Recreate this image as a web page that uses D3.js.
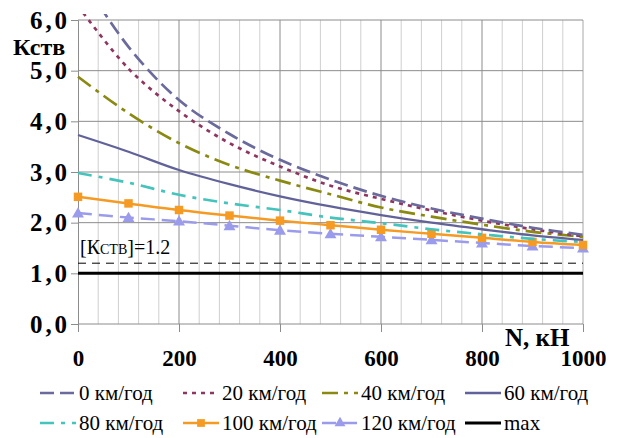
<!DOCTYPE html>
<html>
<head>
<meta charset="utf-8">
<script src="https://cdn.jsdelivr.net/npm/d3@7"></script>
<style>
  html, body { margin: 0; padding: 0; background: #fff; }
  svg { display: block; }
</style>
</head>
<body>
<svg id="chart" width="619" height="438"></svg>
<script>
// ---- data ----
const loads = [0, 100, 200, 300, 400, 500, 600, 700, 800, 900, 1000];
const v0   = [6.95, 5.47, 4.42, 3.75, 3.24, 2.85, 2.53, 2.28, 2.08, 1.90, 1.76];
const v20  = [6.28, 5.04, 4.20, 3.57, 3.11, 2.73, 2.47, 2.24, 2.04, 1.87, 1.73];
const v40  = [4.88, 4.16, 3.57, 3.14, 2.83, 2.56, 2.30, 2.12, 1.96, 1.82, 1.72];
const v60  = [3.73, 3.40, 3.04, 2.76, 2.52, 2.32, 2.15, 2.00, 1.87, 1.75, 1.66];
const v80  = [2.98, 2.79, 2.55, 2.38, 2.25, 2.10, 1.99, 1.87, 1.77, 1.68, 1.62];
const v100 = [2.51, 2.38, 2.25, 2.14, 2.04, 1.95, 1.86, 1.78, 1.70, 1.62, 1.56];
const v120 = [2.19, 2.10, 2.03, 1.94, 1.85, 1.78, 1.72, 1.66, 1.60, 1.54, 1.50];
const vMax = [1.0, 1.0, 1.0, 1.0, 1.0, 1.0, 1.0, 1.0, 1.0, 1.0, 1.0];
const allowedK = 1.2;
const allowedLabel = ["[К", "СТВ", "]=1.2"];
const seriesNames = ["0 км/год", "20 км/год", "40 км/год", "60 км/год",
                     "80 км/год", "100 км/год", "120 км/год", "max"];
const yTicks = [0, 1, 2, 3, 4, 5, 6];
const xTicks = [0, 200, 400, 600, 800, 1000];
const xMinorTicks = d3.range(0, 1001, 40);
const yTitle = "Кств";
const xTitle = "N, кН";

// ---- styles ----
const FONT = '"Liberation Serif", Tinos, "Times New Roman", Times';
const styles = [
  {color: "#6a6a9c", dash: "14,6", width: 2.7, marker: null},
  {color: "#8e3560", dash: "4,5", width: 2.7, marker: null},
  {color: "#8a8a12", dash: "16,6,4,6", width: 2.7, marker: null},
  {color: "#62629a", dash: null, width: 2.3, marker: null},
  {color: "#44c4bc", dash: "14,7,4,7", width: 2.7, marker: null},
  {color: "#f59a23", dash: null, width: 2.5, marker: "square"},
  {color: "#9b9bec", dash: "14,7", width: 2.5, marker: "triangle"},
  {color: "#000000", dash: null, width: 3, marker: null}
];
const seriesValues = [v0, v20, v40, v60, v80, v100, v120, vMax];

const svg = d3.select("#chart");
const x = d3.scaleLinear().domain([0, 1000]).range([78, 583]);
const y = d3.scaleLinear().domain([0, 6]).range([324, 20]);

function serifize(sel) {
  sel.each(function() {
    const t = this.textContent;
    this.textContent = "";
    d3.select(this).style("font-family", FONT)
      .append("tspan").style("font-family", FONT).text(t);
  });
  return sel;
}

// ---- grid ----
const grid = svg.append("g");
grid.selectAll("line.vminor").data(xMinorTicks.filter(d => d % 200 !== 0)).join("line")
  .attr("x1", d => x(d)).attr("x2", d => x(d))
  .attr("y1", y(0)).attr("y2", y(6))
  .attr("stroke", "#cfcfcf").attr("stroke-width", 1);
grid.selectAll("line.vmajor").data(xTicks.filter(d => d > 0)).join("line")
  .attr("x1", d => x(d)).attr("x2", d => x(d))
  .attr("y1", y(0)).attr("y2", y(6))
  .attr("stroke", d => d === 1000 ? "#a8a8a8" : "#8c8c8c").attr("stroke-width", 1);
grid.selectAll("line.h").data(yTicks.filter(d => d > 0)).join("line")
  .attr("x1", x(0)).attr("x2", x(1000))
  .attr("y1", d => y(d)).attr("y2", d => y(d))
  .attr("stroke", "#8c8c8c").attr("stroke-width", 1);

// ---- axes ----
const yAxis = svg.append("g").attr("transform", `translate(${x(0)},0)`)
  .call(d3.axisLeft(y).tickValues(yTicks).tickSize(7).tickPadding(4)
        .tickFormat(d => d3.format(".1f")(d).replace(".", ",")));
yAxis.attr("font-family", null);
yAxis.select(".domain").attr("stroke", "#8c8c8c");
yAxis.selectAll(".tick line").attr("stroke", "#8c8c8c");
serifize(yAxis.selectAll(".tick text"))
  .attr("font-size", 25).attr("font-weight", "bold").attr("fill", "#000")
  .attr("text-anchor", "end").attr("dy", null).attr("y", 8)
  .attr("textLength", 37).attr("lengthAdjust", "spacing");

const xAxis = svg.append("g").attr("transform", `translate(0,${y(0)})`)
  .call(d3.axisBottom(x).tickValues(xTicks).tickSize(8).tickPadding(0)
        .tickFormat(d3.format("d")));
xAxis.attr("font-family", null);
xAxis.select(".domain").attr("stroke", "#8c8c8c").attr("d", `M${x(0)},0H${x(1000)}`);
xAxis.selectAll(".tick line").attr("stroke", "#8c8c8c");
serifize(xAxis.selectAll(".tick text"))
  .attr("font-size", 23).attr("font-weight", "bold").attr("fill", "#000")
  .attr("y", 42).attr("dy", null);

// ---- reference lines ----
svg.append("line")
  .attr("x1", x(0)).attr("x2", x(1000))
  .attr("y1", y(allowedK)).attr("y2", y(allowedK))
  .attr("stroke", "#000").attr("stroke-width", 1).attr("stroke-dasharray", "8,6");
const al = svg.append("text").style("font-family", FONT)
  .attr("x", x(0) + 2).attr("y", y(allowedK) - 9)
  .attr("font-size", 20).attr("fill", "#000");
al.append("tspan").style("font-family", FONT).text(allowedLabel[0]);
al.append("tspan").style("font-family", FONT).attr("font-size", 14).text(allowedLabel[1]);
al.append("tspan").style("font-family", FONT).text(allowedLabel[2]);

// ---- series ----
svg.append("clipPath").attr("id", "clip").append("rect")
  .attr("x", x(0) - 10).attr("y", 14).attr("width", 530).attr("height", 320);

const line = d3.line()
  .x((d, i) => x(loads[i]))
  .y(d => y(d))
  .curve(d3.curveCatmullRom.alpha(0.5));

const plot = svg.append("g").attr("clip-path", "url(#clip)");
const order = [7, 6, 5, 4, 3, 2, 1, 0];
order.forEach(k => {
  const s = styles[k];
  plot.append("path")
    .attr("d", line(seriesValues[k]))
    .attr("fill", "none")
    .attr("stroke", s.color)
    .attr("stroke-width", s.width)
    .attr("stroke-dasharray", s.dash)
    .attr("stroke-linecap", "butt");
  if (s.marker) {
    const sym = d3.symbol().type(s.marker === "square" ? d3.symbolSquare : d3.symbolTriangle)
      .size(s.marker === "square" ? 72 : 62);
    plot.selectAll(null).data(seriesValues[k]).join("path")
      .attr("d", sym)
      .attr("transform", (d, i) => `translate(${x(loads[i])},${y(d) + (s.marker === "triangle" ? 1 : 0)})`)
      .attr("fill", s.color);
  }
});

// ---- axis titles ----
serifize(svg.append("text").attr("x", 13).attr("y", 55)
  .attr("font-size", 24).attr("font-weight", "bold").attr("fill", "#000")
  .text(yTitle));
serifize(svg.append("text").attr("x", 505).attr("y", 346)
  .attr("font-size", 25).attr("font-weight", "bold").attr("fill", "#000")
  .text(xTitle));

// ---- legend ----
const legCols = [40, 183, 322, 465];
const legRows = [393, 423];
const legend = svg.append("g");
seriesNames.forEach((name, k) => {
  const s = styles[k];
  const cx = legCols[k % 4], cy = legRows[Math.floor(k / 4)];
  const g = legend.append("g").attr("transform", `translate(${cx},${cy})`);
  g.append("line").attr("x1", 0).attr("x2", 36).attr("y1", 0).attr("y2", 0)
    .attr("stroke", s.color).attr("stroke-width", s.width)
    .attr("stroke-dasharray", s.dash);
  if (s.marker) {
    const sym = d3.symbol().type(s.marker === "square" ? d3.symbolSquare : d3.symbolTriangle)
      .size(s.marker === "square" ? 60 : 52);
    g.append("path").attr("d", sym).attr("transform", "translate(18,0)").attr("fill", s.color);
  }
  serifize(g.append("text").attr("x", 39).attr("y", 7)
    .attr("font-size", 21).attr("fill", "#000").text(name));
});
</script>
</body>
</html>
